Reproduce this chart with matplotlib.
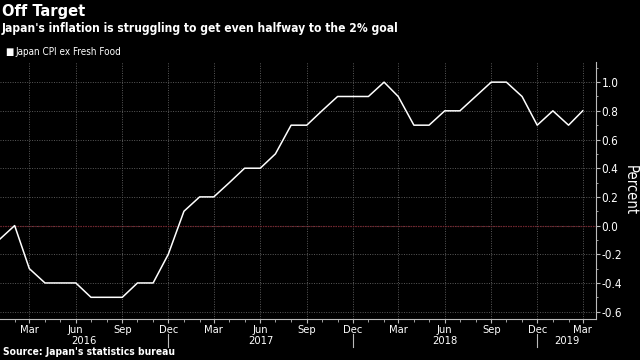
"""Off Target: Japan CPI ex fresh food, YoY %, Jan 2016 - Mar 2019 (Bloomberg-style dark chart)."""
import matplotlib
matplotlib.use("Agg")
import matplotlib.pyplot as plt
import matplotlib.dates as mdates
import matplotlib.transforms as mtransforms
import pandas as pd

plt.rcParams["font.family"] = ["DejaVu Sans"]
plt.rcParams["font.stretch"] = "condensed"

# monthly YoY change, percent
months = pd.date_range("2016-01-01", "2019-03-01", freq="MS")
cpi = [-0.1, 0.0, -0.3, -0.4, -0.4, -0.4, -0.5, -0.5, -0.5, -0.4, -0.4, -0.2,
       0.1, 0.2, 0.2, 0.3, 0.4, 0.4, 0.5, 0.7, 0.7, 0.8, 0.9, 0.9,
       0.9, 1.0, 0.9, 0.7, 0.7, 0.8, 0.8, 0.9, 1.0, 1.0, 0.9, 0.7,
       0.8, 0.7, 0.8]
years = [2016, 2017, 2018, 2019]
yticks = [-0.6, -0.4, -0.2, 0.0, 0.2, 0.4, 0.6, 0.8, 1.0]

bg = "black"
fg = "white"
grid_c = "#5a5a5a"

fig = plt.figure(figsize=(6.4, 3.6), dpi=100, facecolor=bg)
ax = fig.add_axes([0.0, 0.114, 0.931, 0.714], facecolor=bg)

ax.plot(months, cpi, color=fg, lw=1.1, zorder=3)
ax.axhline(0, color="#7a1f2a", lw=0.9, ls=(0, (1, 1)), zorder=2)

ax.set_xlim(pd.Timestamp("2016-01-03"), pd.Timestamp("2019-03-27"))
ax.set_ylim(-0.651, 1.141)

# x axis: quarter labels, month minor ticks
ax.xaxis.set_major_locator(mdates.MonthLocator(bymonth=[3, 6, 9, 12]))
ax.xaxis.set_major_formatter(mdates.DateFormatter("%b"))
ax.xaxis.set_minor_locator(mdates.MonthLocator())
ax.tick_params(axis="x", which="major", colors="#bbbbbb", labelcolor=fg,
               length=3, width=0.8, labelsize=8, pad=1.5)
ax.tick_params(axis="x", which="minor", colors="#bbbbbb", length=2, width=0.6)

# y axis on the right
ax.yaxis.tick_right()
ax.set_yticks(yticks)
ax.set_yticklabels([f"{v:.1f}" for v in yticks])
ax.set_yticks([v / 10 for v in range(-6, 12)], minor=True)
ax.tick_params(axis="y", which="major", colors="#bbbbbb", labelcolor=fg,
               length=3, width=0.8, labelsize=8.5, pad=1)
ax.tick_params(axis="y", which="minor", colors="#bbbbbb", length=1.5, width=0.6)
ax.yaxis.set_label_position("right")
ax.set_ylabel("Percent", color=fg, fontsize=10.5, rotation=270, va="center")
ax.yaxis.set_label_coords(1.057, 0.502)

ax.grid(True, which="major", color=grid_c, lw=0.7, ls=(0, (1, 1.5)))
for s in ["top", "left"]:
    ax.spines[s].set_visible(False)
for s in ["bottom", "right"]:
    ax.spines[s].set_color("#bbbbbb")
    ax.spines[s].set_linewidth(0.8)

# year labels centred between the December separators
trans = mtransforms.blended_transform_factory(ax.transData, ax.transAxes)
x0, x1 = ax.get_xlim()
for yr in years:
    lo = max(mdates.date2num(pd.Timestamp(f"{yr - 1}-12-01")), x0)
    hi = min(mdates.date2num(pd.Timestamp(f"{yr}-12-01")), x1)
    ax.text((lo + hi) / 2, -0.084, str(yr), transform=trans, ha="center",
            va="center", color=fg, fontsize=8)
for yr in years[:-1]:
    xd = pd.Timestamp(f"{yr}-12-01")
    ax.plot([xd, xd], [-0.058, -0.109], transform=trans, color="#bbbbbb",
            lw=0.8, clip_on=False)

# headline text
fig.text(0.003, 0.969, "Off Target", color=fg, fontsize=11.8, fontweight="bold", va="center")
fig.text(0.003, 0.922, "Japan's inflation is struggling to get even halfway to the 2% goal",
         color=fg, fontsize=8.65, fontweight="bold", va="center")
fig.text(0.008, 0.855, "\u25A0", color=fg, fontsize=7, va="center")
fig.text(0.024, 0.855, "Japan CPI ex Fresh Food", color=fg, fontsize=7.1, va="center")
fig.text(0.004, 0.022, "Source: Japan's statistics bureau", color=fg, fontsize=7.4,
         fontweight="bold", va="center")

fig.savefig("out.png", dpi=100, facecolor=bg)
